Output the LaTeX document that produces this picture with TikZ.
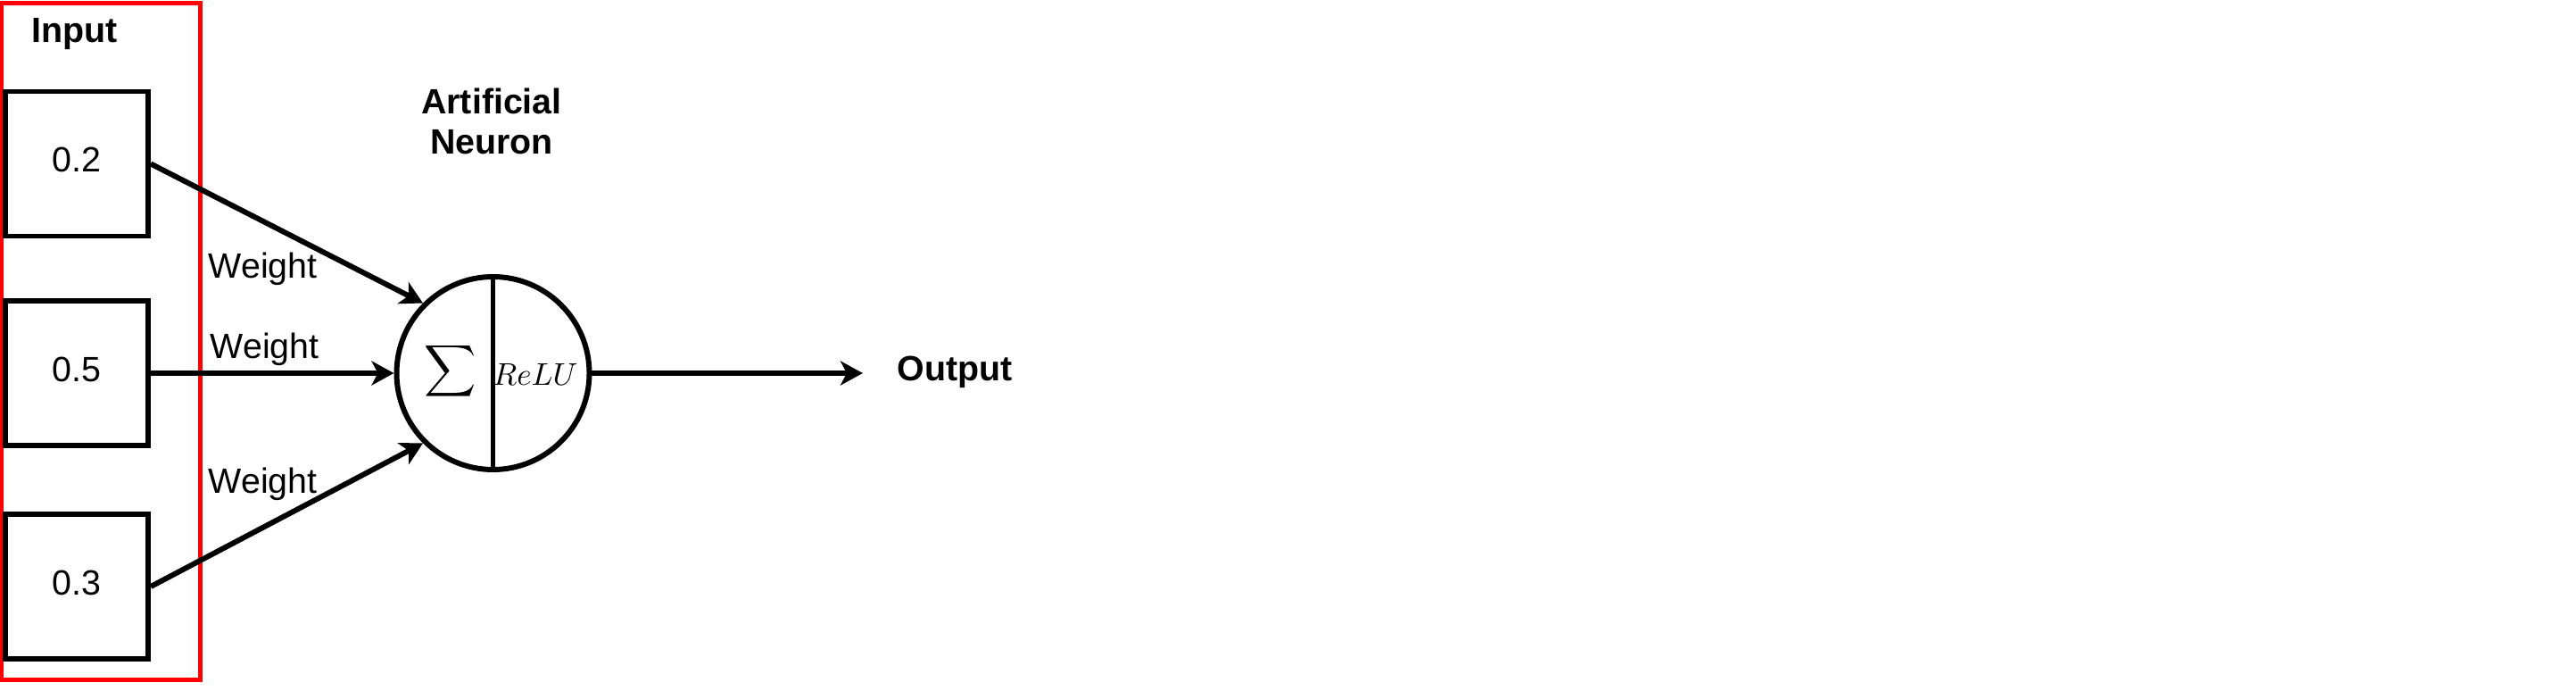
\documentclass[tikz,border=0pt]{standalone}
\usepackage[no-math]{fontspec}
\setmainfont{Liberation Sans}
\usepackage{amsmath,amssymb}
\usetikzlibrary{arrows.meta}

\begin{document}
\begin{tikzpicture}[every node/.style={font=\fontsize{11.2}{13}\selectfont, inner sep=0pt},
	inbox/.style={draw, line width=1.7pt, minimum width=1.6cm, minimum height=1.62cm, text height=0.28cm, text depth=0.09cm},
	link/.style={line width=1.7pt, -{Stealth[length=0.25cm, width=0.27cm, inset=0.07cm]}}]
	\useasboundingbox (0,0) rectangle (28.87,-7.74);
	\node[draw=red, line width=1.4pt, minimum width=2.225cm, minimum height=7.58cm] (inputs) at (1.1325,-3.825) {};
	\node[font=\fontsize{11.2}{13}\selectfont\bfseries, anchor=base] (inlabel) at (0.835,-0.475) {Input};
	\node[inbox] (x1) at (0.86,-1.835) {0.2};
	\node[inbox] (x2) at (0.86,-4.18) {0.5};
	\node[inbox] (x3) at (0.86,-6.57) {0.3};
	\node[draw, circle, line width=1.7pt, minimum size=2.16cm] (neuron) at (5.525,-4.18) {};
	\draw[line width=1.7pt] (neuron.north) -- (neuron.south);
	\node[font=\fontsize{11.5}{13}\selectfont] (sum) at (5.05,-4.155) {$\displaystyle\sum$};
	\node[font=\fontsize{9.8}{11}\selectfont, anchor=base] (relu) at (6.0,-4.32) {$ReLU$};
	\node[font=\fontsize{11.2}{13}\selectfont\bfseries, align=center, anchor=base] (title) at (5.51,-1.73) {Artificial\\Neuron};
	\draw[link] (x1.east) -- (neuron.north west);
	\draw[link] (x2.east) -- (neuron.west);
	\draw[link] (x3.east) -- (neuron.south west);
	\node[anchor=base west] (w1) at (2.33,-3.12) {Weight};
	\node[anchor=base west] (w2) at (2.35,-4.02) {Weight};
	\node[anchor=base west] (w3) at (2.33,-5.52) {Weight};
	\coordinate (out) at (9.67,-4.18);
	\draw[link] (neuron.east) -- (out);
	\node[font=\fontsize{11.2}{13}\selectfont\bfseries, anchor=base west] (output) at (10.05,-4.27) {Output};
\end{tikzpicture}
\end{document}
